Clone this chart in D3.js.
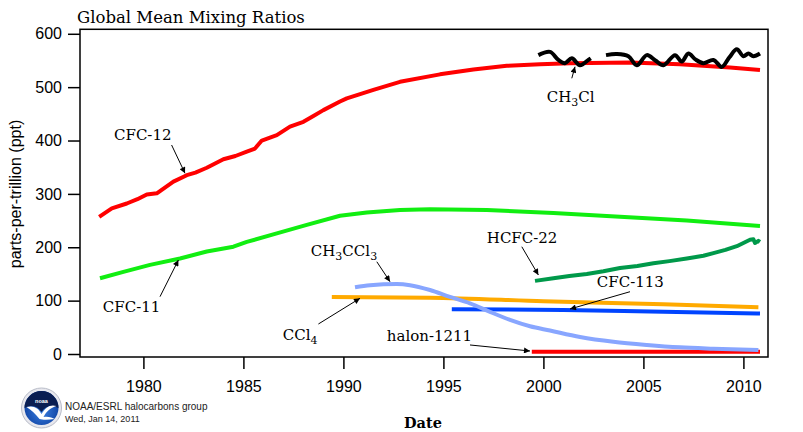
<!DOCTYPE html>
<html><head><meta charset="utf-8">
<script src="https://cdn.jsdelivr.net/npm/d3@7"></script>
<style>body{margin:0;background:#fff;} svg{display:block}</style>
</head><body>
<svg id="c" width="803" height="432"></svg>
<script>
// ---------- data ----------
const xTicks = [1980, 1985, 1990, 1995, 2000, 2005, 2010];
const yTicks = [0, 100, 200, 300, 400, 500, 600];

const cfc12Years  = [1977.79, 1978.42, 1979.17, 1979.7, 1980.17, 1980.67, 1981.5, 1982.17, 1982.6, 1983.17, 1984, 1984.6, 1985.17, 1985.58, 1985.92, 1986.67, 1987.33, 1988, 1988.5, 1989, 1989.83, 1990.17, 1991.5, 1992.83, 1994.83, 1996.5, 1998.17, 1999.83, 2001.33, 2004.33, 2006.83, 2009.33, 2010.83];
const cfc12Values = [257, 273, 282, 290, 299, 301, 323, 335, 340, 349, 365, 371, 379, 385, 400, 410, 426, 435, 446, 457, 473, 479, 495, 510, 524, 533, 540, 543, 545, 546, 543, 537, 532];

const cfc11Years  = [1977.83, 1979, 1980.33, 1981.83, 1983.17, 1984.5, 1985.17, 1986.67, 1988.17, 1989.83, 1991.17, 1992.83, 1994.33, 1997.17, 2000.5, 2003.83, 2007.17, 2010.83];
const cfc11Values = [142, 154, 167, 179, 192, 201, 210, 226, 242, 259, 265, 270, 271, 270, 264, 257, 250, 240];

const hcfc22Years  = [1999.58, 2000.5, 2001.3, 2002.17, 2003, 2003.83, 2004.7, 2005.5, 2006.3, 2007.17, 2008, 2008.5, 2009.1, 2009.67, 2010.33, 2010.5, 2010.58, 2010.75, 2010.83];
const hcfc22Values = [137, 142, 146, 150, 155, 161, 165, 170, 174, 179, 184, 189, 195, 202, 214, 215, 208, 212, 210];

const ccl4Years  = [1989.42, 1994.33, 2000, 2006, 2010.75];
const ccl4Values = [107, 105.5, 99, 93, 87.5];

const cfc113Years  = [1995.42, 2001, 2006, 2010.83];
const cfc113Values = [84, 82.4, 79, 76];

const halonYears  = [1999.42, 2005, 2010.83];
const halonValues = [4.3, 4.4, 4.2];

const ch3ccl3Years  = [1990.58, 1991.33, 1992.67, 1993.33, 1994.33, 1995.33, 1996.33, 1997.33, 1998.33, 1999.33, 2000.33, 2001.83, 2003.5, 2005.17, 2006.83, 2008.5, 2010.75];
const ch3ccl3Values = [125, 129, 131, 129, 120, 107, 95, 79, 64, 52, 44, 32, 23, 17, 12.5, 10, 7.5];

const ch3clYears  = [1999.75, 2000.33, 2000.75, 2001.08, 2001.42, 2001.83, 2002.25, 2002.37, 2002.8,
                     2003.13, 2003.67, 2004.25, 2004.67, 2005.17, 2005.6, 2006, 2006.58, 2006.92, 2007.25, 2007.6, 2008, 2008.5, 2008.92, 2009.3, 2009.67, 2010, 2010.25, 2010.5, 2010.83];
const ch3clValues = [560, 566, 551, 545, 554, 541, 551, 554, null,
                     560, 562, 558, 541, 560, 550, 541, 560, 548, 563, 552, 545, 551, 538, 556, 571, 558, 563, 558, 563];

// annotation labels: text parts [text, isSubscript], anchor point and arrow (data units)
const labelNames = ["CFC-12", "CFC-11", "CH3CCl3", "CCl4", "HCFC-22", "CFC-113", "halon-1211", "CH3Cl"];
const labelParts = [
  [["CFC-12",0]], [["CFC-11",0]], [["CH",0],["3",1],["CC",0],["l",0],["3",1]], [["CCl",0],["4",1]],
  [["HCFC-22",0]], [["CFC-113",0]], [["halon-1211",0]], [["CH",0],["3",1],["Cl",0]]
];
const labelYears  = [1978.53, 1977.97, 1988.37, 1986.97, 1997.17, 2002.67, 1992.17, 2000.17];
const labelValues = [401, 79.3, 183.6, 26.2, 208.5, 125, 24.9, 471.6];
const arrowFrom = [[1981.41, 391.6], [1980.83, 107.4], [1991.67, 172.9], [1988.75, 56.2], [1998.92, 201], [2004.33, 116.7], [1996.33, 16.9], [2001.42, 516.6]];
const arrowTo   = [[1982.08, 338.6], [1981.75, 176.1], [1992.33, 135.5], [1990.83, 104.4], [1999.75, 148], [2001.33, 84.3], [1999.33, 5.6], [2001.58, 538.3]];

// ---------- chart ----------
const svg = d3.select('#c');
svg.append('rect').attr('width', 803).attr('height', 432).attr('fill', '#fff');

const x = d3.scaleLinear().domain([1976.83, 2011.23]).range([80, 768]);
const y = d3.scaleLinear().domain([-5.62, 608.4]).range([357, 29.3]);

const defs = svg.append('defs');
defs.append('marker').attr('id', 'ah').attr('viewBox', '0 0 10 10')
  .attr('refX', 10).attr('refY', 5).attr('markerWidth', 10).attr('markerHeight', 6)
  .attr('markerUnits', 'userSpaceOnUse').attr('orient', 'auto')
  .append('path').attr('d', 'M0,0L10,5L0,10z').attr('fill', '#000');

const zip = (a, b) => a.map((v, i) => [v, b[i]]);
const series = [
  {pts: zip(cfc12Years, cfc12Values), color: '#ff0000', curve: d3.curveLinear},
  {pts: zip(cfc11Years, cfc11Values), color: '#11ee11', curve: d3.curveLinear},
  {pts: zip(hcfc22Years, hcfc22Values), color: '#00994a', curve: d3.curveLinear},
  {pts: zip(ccl4Years, ccl4Values), color: '#ffaa00', curve: d3.curveMonotoneX},
  {pts: zip(cfc113Years, cfc113Values), color: '#0044ff', curve: d3.curveMonotoneX},
  {pts: zip(halonYears, halonValues), color: '#ff0000', curve: d3.curveLinear},
  {pts: zip(ch3ccl3Years, ch3ccl3Values), color: '#88a6ff', curve: d3.curveMonotoneX},
  {pts: zip(ch3clYears, ch3clValues), color: '#000000', curve: d3.curveCatmullRom}
];

const gLines = svg.append('g');
series.forEach(s => {
  const line = d3.line().defined(d => d[1] != null).x(d => x(d[0])).y(d => y(d[1])).curve(s.curve);
  gLines.append('path').attr('d', line(s.pts)).attr('fill', 'none')
    .attr('stroke', s.color).attr('stroke-width', 4)
    .attr('stroke-linejoin', 'round').attr('stroke-linecap', 'butt');
});

// frame
svg.append('rect').attr('x', x(1976.83)).attr('y', y(608.4))
  .attr('width', x(2011.23) - x(1976.83)).attr('height', y(-5.62) - y(608.4))
  .attr('fill', 'none').attr('stroke', '#000').attr('stroke-width', 1.5);

// axes
const gy = svg.append('g').attr('transform', `translate(${x(1976.83)},0)`)
  .call(d3.axisLeft(y).tickValues(yTicks).tickSize(12).tickPadding(6));
const gx = svg.append('g').attr('transform', `translate(0,${y(-5.62)})`)
  .call(d3.axisBottom(x).tickValues(xTicks).tickFormat(d3.format('d')).tickSize(12).tickPadding(12));
[gx, gy].forEach(g => {
  g.select('.domain').remove();
  g.attr('font-family', 'Liberation Sans, Arial, sans-serif').attr('font-size', 16);
  g.selectAll('line').attr('stroke', '#000').attr('stroke-width', 1.5);
  g.selectAll('text').attr('fill', '#000');
});

// annotation labels and arrows
const gAnn = svg.append('g').attr('font-family', 'DejaVu Serif, serif').attr('font-size', 15).attr('fill', '#000');
labelNames.forEach((name, i) => {
  const t = gAnn.append('text').attr('x', x(labelYears[i])).attr('y', y(labelValues[i]));
  let shifted = 0;
  labelParts[i].forEach(([str, sub]) => {
    const target = sub ? 4 : 0;
    const ts = t.append('tspan').text(str).attr('dy', target - shifted);
    if (sub) ts.attr('font-size', 11);
    shifted = target;
  });
  gAnn.append('line')
    .attr('x1', x(arrowFrom[i][0])).attr('y1', y(arrowFrom[i][1]))
    .attr('x2', x(arrowTo[i][0])).attr('y2', y(arrowTo[i][1]))
    .attr('stroke', '#000').attr('stroke-width', 1).attr('marker-end', 'url(#ah)');
});

// title and axis titles
svg.append('text').attr('x', 77).attr('y', 23).attr('font-family', 'DejaVu Serif, serif')
  .attr('font-size', 16.5).attr('fill', '#000').text('Global Mean Mixing Ratios');
svg.append('text').attr('transform', 'translate(21,194) rotate(-90)').attr('text-anchor', 'middle')
  .attr('font-family', 'Liberation Sans, Arial, sans-serif').attr('font-size', 16).attr('fill', '#000')
  .text('parts-per-trillion (ppt)');
svg.append('text').attr('x', 423).attr('y', 428).attr('text-anchor', 'middle')
  .attr('font-family', 'DejaVu Serif, serif').attr('font-weight', 'bold').attr('font-size', 14.5).attr('fill', '#000')
  .text('Date');

// NOAA logo + credit
const logo = svg.append('g').attr('transform', 'translate(41.5,408)');
const grad = defs.append('radialGradient').attr('id', 'lg').attr('cx', '50%').attr('cy', '60%').attr('r', '60%');
grad.append('stop').attr('offset', '0%').attr('stop-color', '#3a7fe0');
grad.append('stop').attr('offset', '100%').attr('stop-color', '#0b3c9c');
logo.append('circle').attr('r', 20).attr('fill', '#e8e8ee').attr('stroke', '#b8bcc8').attr('stroke-width', 1);
logo.append('circle').attr('r', 17).attr('fill', 'url(#lg)');
logo.append('path').attr('d', 'M-17,0 A17,17 0 0 1 17,0 C10,-4 4,-2 0,4 C-4,-2 -10,-4 -17,0 Z').attr('fill', '#0a1e52');
logo.append('path').attr('d', 'M-15,-1 C-8,-3 -3,0 0,6 C4,-1 9,-4 15,-2 C9,0 5,3 2,9 C7,8 11,10 13,11 C7,12 1,12 -2,11 C-6,6 -10,2 -15,-1 Z').attr('fill', '#ffffff');
logo.append('text').attr('x', 0).attr('y', -5).attr('text-anchor', 'middle').attr('font-family', 'Liberation Sans, Arial, sans-serif')
  .attr('font-size', 5.5).attr('font-weight', 'bold').attr('fill', '#fff').text('noaa');
svg.append('text').attr('x', 65).attr('y', 410).attr('font-family', 'Liberation Sans, Arial, sans-serif')
  .attr('font-size', 10).attr('fill', '#222').text('NOAA/ESRL halocarbons group');
svg.append('text').attr('x', 65).attr('y', 422).attr('font-family', 'Liberation Sans, Arial, sans-serif')
  .attr('font-size', 9).attr('fill', '#222').text('Wed, Jan 14, 2011');
</script>
</body></html>
